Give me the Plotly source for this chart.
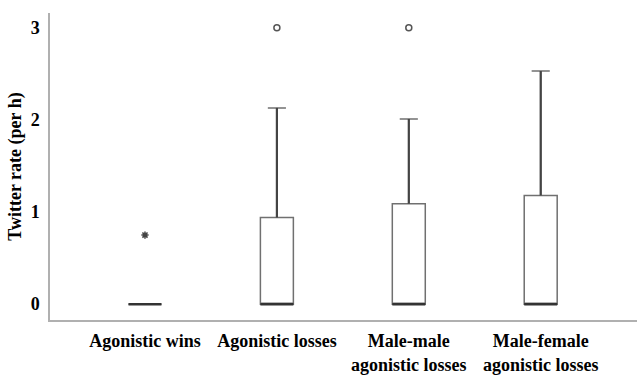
import plotly.graph_objects as go

categories = ["Agonistic wins", "Agonistic losses", "Male-male<br>agonistic losses", "Male-female<br>agonistic losses"]
q1 = [0, 0, 0, 0]
median = [0, 0, 0, 0]
q3 = [0, 0.94, 1.09, 1.18]
lowerfence = [0, 0, 0, 0]
upperfence = [0, 2.13, 2.01, 2.53]
outlier_circles = {1: [3.0], 2: [3.0]}
outlier_stars = {0: [0.75]}
tick_vals = [0, 1, 2, 3]

xpos = list(range(len(categories)))
fig = go.Figure()
box_w = 0.25
for i in xpos:
    fig.add_trace(go.Box(
        x=[i], q1=[q1[i]], median=[median[i]], q3=[q3[i]],
        lowerfence=[lowerfence[i]], upperfence=[upperfence[i]],
        width=box_w, whiskerwidth=0.55,
        fillcolor="white", line=dict(color="#707070", width=1.5),
        boxpoints=False, showlegend=False, hoverinfo="skip"))
    hw = box_w / 2
    # emphasised median
    fig.add_trace(go.Scatter(x=[i - hw, i + hw], y=[median[i], median[i]], mode="lines",
                             line=dict(color="#333333", width=2.5), showlegend=False, hoverinfo="skip"))
    # darker whisker stem
    if upperfence[i] > q3[i]:
        fig.add_trace(go.Scatter(x=[i, i], y=[q3[i], upperfence[i]], mode="lines",
                                 line=dict(color="#444444", width=2.2), showlegend=False, hoverinfo="skip"))

for i, vals in outlier_circles.items():
    fig.add_trace(go.Scatter(x=[i] * len(vals), y=vals, mode="markers",
                             marker=dict(symbol="circle-open", size=6, color="#555555", line=dict(width=1.5)),
                             showlegend=False))
for i, vals in outlier_stars.items():
    fig.add_trace(go.Scatter(x=[i] * len(vals), y=vals, mode="markers",
                             marker=dict(symbol="asterisk-open", size=6, color="#444444", line=dict(width=1.5)),
                             showlegend=False))

tf = dict(family="Liberation Serif", size=18, color="black")
fig.update_layout(
    width=637, height=375,
    margin=dict(l=50, r=0, t=13, b=43),
    paper_bgcolor="white", plot_bgcolor="white",
    font=tf,
    xaxis=dict(range=[-0.72, 3.73], tickvals=xpos, ticktext=["<b>%s</b>" % c for c in categories],
               showline=True, linecolor="#b0b0b0", linewidth=1.5, showgrid=False, zeroline=False,
               ticks="", ticklabelstandoff=4, tickfont=tf),
    yaxis=dict(range=[-0.172, 3.16], tickvals=tick_vals, ticktext=["<b>%d</b>" % v for v in tick_vals],
               showline=True, linecolor="#b0b0b0", linewidth=1.5, showgrid=False, zeroline=False,
               ticks="", ticklabelstandoff=5,
               title=dict(text="<b>Twitter rate (per h)</b>", standoff=4, font=tf),
               tickfont=tf),
)
fig.write_html("out.html")
